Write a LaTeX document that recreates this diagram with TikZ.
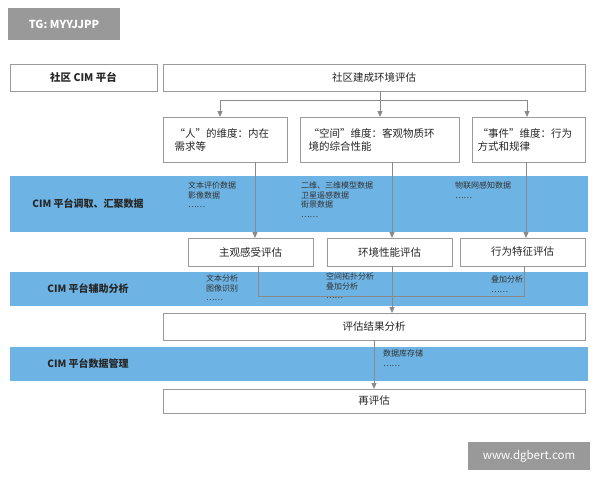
\documentclass[tikz,border=0pt]{standalone}
\usepackage{fontspec}
\setmainfont{Noto Sans CJK SC}
\usetikzlibrary{arrows.meta}
\definecolor{band}{HTML}{6DB3E3}
\definecolor{ln}{HTML}{8A8A8A}
\definecolor{bx}{HTML}{9A9A9A}
\begin{document}
\begin{tikzpicture}[x=1pt,y=-1pt,
  wbox/.style={draw=bx,line width=0.8pt,fill=white},
  btxt/.style={font=\fontsize{10.5}{13}\selectfont,text=black!85},
  stxt/.style={font=\fontsize{8}{9.5}\selectfont,text=black!80,align=left,anchor=north west,inner sep=0pt},
  blab/.style={font=\bfseries\fontsize{10}{12}\selectfont,text=black!85},
  con/.style={draw=ln,line width=1pt},
  arr/.style={con,-{Triangle[length=6pt,width=5pt]}}]
\useasboundingbox (0,0) rectangle (600,480);
\fill[white] (0,0) rectangle (600,480);
% watermarks
\fill[black!40] (8,8) rectangle (120,40);
\node[text=white,font=\bfseries\fontsize{11}{13}\selectfont] (wm1) at (64,24) {TG: MYYJJPP};
\fill[black!40] (468,442) rectangle (590,470);
\node[text=white,font=\fontsize{11.5}{13}\selectfont] (wm2) at (529,456) {www.dgbert.com};
% bands
\fill[band] (10,176) rectangle (588,232);
\fill[band] (10,272) rectangle (588,306);
\fill[band] (10,347) rectangle (588,381);
\node[blab] (l1) at (88,204) {CIM 平台调取、汇聚数据};
\node[blab] (l2) at (88,289) {CIM 平台辅助分析};
\node[blab] (l3) at (88,364) {CIM 平台数据管理};
% top boxes
\draw[wbox] (10,64) rectangle (157,91); \node[btxt,font=\bfseries\fontsize{10.5}{13}\selectfont] (p) at (83.5,77.5) {社区 CIM 平台};
\draw[wbox] (163,64) rectangle (585,91); \node[btxt] (top) at (374,77.5) {社区建成环境评估};
\coordinate (t1) at (380,91); \coordinate (t2) at (380,100);
\coordinate (h1) at (220,100); \coordinate (h3) at (527,100);
\coordinate (a1) at (220,117); \coordinate (a2) at (380,117); \coordinate (a3) at (527,117);
\draw[con] (t1) -- (t2);
\draw[con] (h1) -- (h3);
\draw[arr] (h1) -- (a1);
\draw[arr] (t2) -- (a2);
\draw[arr] (h3) -- (a3);
% dimension boxes
\draw[wbox] (163,117) rectangle (287,162);
\node[btxt,align=left,anchor=west] (d1) at (171,139.5) {“人”的维度：内在\\需求等};
\draw[wbox] (300,117) rectangle (459,162);
\node[btxt,align=left,anchor=west] (d2) at (305,139.5) {“空间”维度：客观物质环\\境的综合性能};
\draw[wbox] (472,117) rectangle (585,162);
\node[btxt,align=left,anchor=west] (d3) at (474,139.5) {“事件”维度：行为\\方式和规律};
% eval boxes
\coordinate (v1a) at (255,162); \coordinate (v1b) at (255,238);
\coordinate (v2a) at (392,162); \coordinate (v2b) at (392,238);
\coordinate (v3a) at (526,162); \coordinate (v3b) at (526,238);
\draw[arr] (v1a) -- (v1b);
\draw[arr] (v2a) -- (v2b);
\draw[arr] (v3a) -- (v3b);
\draw[wbox] (188,238) rectangle (313,266); \node[btxt] (e1) at (250.5,252) {主观感受评估};
\draw[wbox] (327,238) rectangle (452,266); \node[btxt] (e2) at (389.5,252) {环境性能评估};
\draw[wbox] (460,238) rectangle (585,266); \node[btxt] (e3) at (522.5,252) {行为特征评估};
% band texts
\node[stxt] (s1) at (188,182) {文本评价数据\\影像数据\\……};
\node[stxt] (s2) at (301,182) {二维、三维模型数据\\卫星遥感数据\\街景数据\\……};
\node[stxt] (s3) at (455,182) {物联网感知数据\\……};
\node[stxt] (s4) at (206,275) {文本分析\\图像识别\\……};
\node[stxt] (s5) at (326,273) {空间拓扑分析\\叠加分析\\……};
\node[stxt] (s6) at (491,276) {叠加分析\\……};
\node[stxt] (s7) at (383,350) {数据库存储\\……};
% merge
\coordinate (m1) at (258,266); \coordinate (m1b) at (258,296);
\coordinate (m3) at (524,266); \coordinate (m3b) at (524,296);
\coordinate (m2) at (392,266); \coordinate (m2b) at (392,313);
\draw[con] (m1) -- (m1b) -- (m3b) -- (m3);
\draw[arr] (m2) -- (m2b);
\draw[wbox] (163,313) rectangle (585,340); \node[btxt] (r) at (374,326.5) {评估结果分析};
\coordinate (q1) at (374,340); \coordinate (q2) at (374,389);
\draw[arr] (q1) -- (q2);
\draw[wbox] (163,389) rectangle (585,413); \node[btxt] (re) at (374,401) {再评估};
\end{tikzpicture}
\end{document}
